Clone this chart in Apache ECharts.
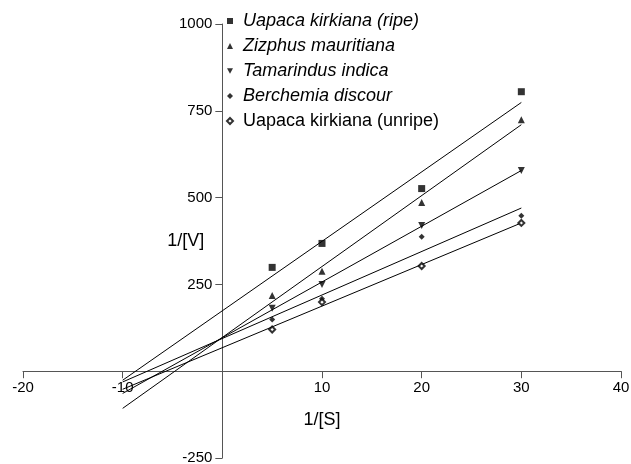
<!DOCTYPE html>
<html>
<head>
<meta charset="utf-8">
<script src="https://cdn.jsdelivr.net/npm/echarts@6/dist/echarts.min.js"></script>
<style>
  html, body { margin: 0; padding: 0; background: #fff; }
  #chart { width: 631px; height: 464px; }
</style>
</head>
<body>
<div id="chart"></div>
<script>
// 1/[S] values measured
var xs = [5, 10, 20, 30];

// 1/[V] per sample
var ripe = [299, 368, 526, 805];
var zizphus = [218, 288, 486, 724];
var tamarindus = [181, 250, 420, 578];
var berchemia = [149, 209, 387, 448];
var unripe = [120, 199, 303, 427];

// fitted lines, read at x = -10 and x = 30
var fitX = [-10, 30];
var ripeFit = [-26, 774];
var zizphusFit = [-107, 710];
var tamarindusFit = [-64, 578];
var berchemiaFit = [-31, 470];
var unripeFit = [-52, 427];

var names = [
  'Uapaca kirkiana (ripe)',
  'Zizphus mauritiana',
  'Tamarindus indica',
  'Berchemia discour',
  'Uapaca kirkiana (unripe)'
];

var xMin = -20, xMax = 40, yMin = -250, yMax = 1000;

var font = 'Liberation Sans, Arial, Helvetica, sans-serif';
var downTri = 'path://M0,0 L10,0 L5,9 Z';

var W = 631, H = 464;
var grid = { left: 23, right: 10, top: 24, bottom: 6 };
// axes cross at zero: shift them in from the grid edges
var xOff = -(H - grid.top - grid.bottom) * (0 - yMin) / (yMax - yMin);
var yOff = -(W - grid.left - grid.right) * (0 - xMin) / (xMax - xMin);

function pts(ys) {
  return xs.map(function (x, i) { return [x, ys[i]]; });
}
function fit(ys) {
  return fitX.map(function (x, i) { return [x, ys[i]]; });
}
function dots(name, ys, symbol, size) {
  return {
    name: name, type: 'scatter', data: pts(ys),
    symbol: symbol, symbolSize: size,
    itemStyle: { color: '#000', borderColor: '#000', borderWidth: 0 },
    z: 3
  };
}
function line(ys) {
  return {
    type: 'line', data: fit(ys), showSymbol: false, silent: true,
    lineStyle: { color: '#000', width: 1 }, z: 2
  };
}
function noZero(v) { return v === 0 ? '' : v; }

var chart = echarts.init(document.getElementById('chart'));
chart.setOption({
  animation: false,
  textStyle: { fontFamily: font },
  grid: {
    left: grid.left, right: grid.right, top: grid.top, bottom: grid.bottom,
    containLabel: false, outerBoundsMode: 'none'
  },
  legend: {
    orient: 'vertical', left: 221, top: 7,
    itemWidth: 6, itemHeight: 6, itemGap: 7,
    textStyle: { fontSize: 18, color: '#000', fontFamily: font, padding: [0, 0, 0, 5] },
    data: [
      { name: names[0], icon: 'rect', textStyle: { fontStyle: 'italic' } },
      { name: names[1], icon: 'triangle', textStyle: { fontStyle: 'italic' } },
      { name: names[2], icon: downTri, textStyle: { fontStyle: 'italic' } },
      { name: names[3], icon: 'diamond', textStyle: { fontStyle: 'italic' } },
      { name: names[4], icon: 'emptyDiamond', itemStyle: { borderWidth: 1 } }
    ]
  },
  xAxis: {
    type: 'value', min: xMin, max: xMax, interval: 10,
    position: 'bottom', offset: xOff,
    name: '1/[S]', nameLocation: 'middle', nameGap: 40, nameMoveOverlap: false,
    nameTextStyle: { fontSize: 18, color: '#000' },
    axisLine: { onZero: false, lineStyle: { color: '#555', width: 1 } },
    axisTick: { length: 7, lineStyle: { color: '#555' } },
    axisLabel: { fontSize: 15, color: '#000', margin: 9, formatter: noZero },
    splitLine: { show: false }
  },
  yAxis: {
    type: 'value', min: yMin, max: yMax, interval: 250,
    position: 'left', offset: yOff,
    name: '1/[V]', nameLocation: 'middle', nameGap: 18, nameRotate: 0,
    nameMoveOverlap: false,
    nameTextStyle: { fontSize: 18, color: '#000' },
    axisLine: { onZero: false, lineStyle: { color: '#555', width: 1 } },
    axisTick: { length: 7, lineStyle: { color: '#555' } },
    axisLabel: { fontSize: 15, color: '#000', margin: 10, formatter: noZero },
    splitLine: { show: false }
  },
  series: [
    line(ripeFit), line(zizphusFit), line(tamarindusFit),
    line(berchemiaFit), line(unripeFit),
    dots(names[0], ripe, 'rect', 7),
    dots(names[1], zizphus, 'triangle', 7),
    dots(names[2], tamarindus, downTri, 7),
    dots(names[3], berchemia, 'diamond', 6),
    {
      name: names[4], type: 'scatter', data: pts(unripe),
      symbol: 'emptyDiamond', symbolSize: 6,
      itemStyle: { color: '#000', borderColor: '#000', borderWidth: 1 },
      z: 3
    }
  ]
});
</script>
</body>
</html>
